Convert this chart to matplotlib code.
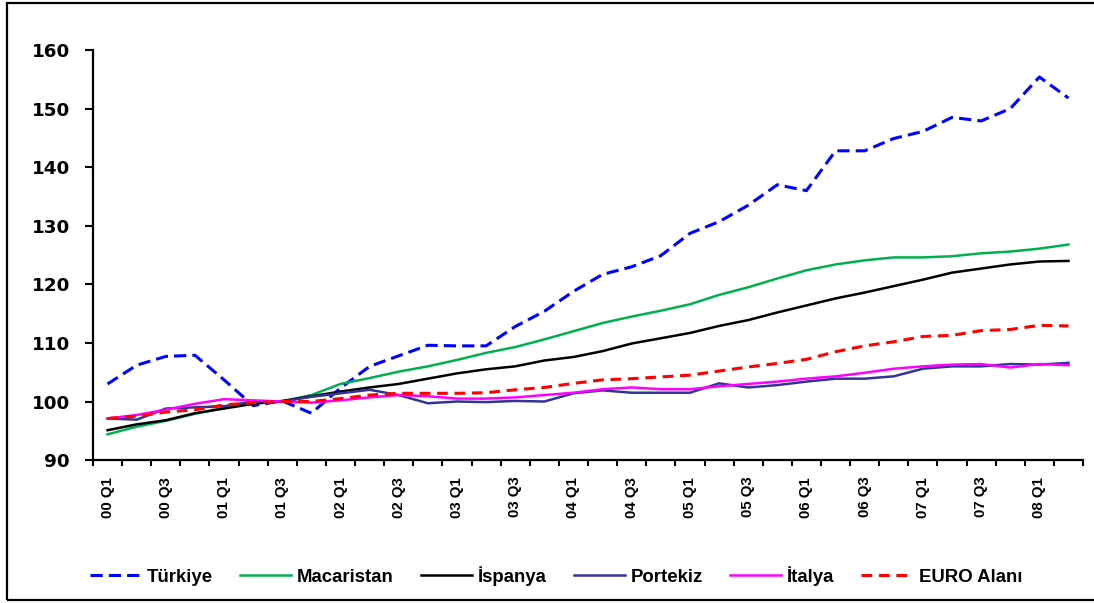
import matplotlib.pyplot as plt
from matplotlib.patches import Rectangle

quarters = ["00 Q1", "00 Q2", "00 Q3", "00 Q4", "01 Q1", "01 Q2", "01 Q3", "01 Q4",
            "02 Q1", "02 Q2", "02 Q3", "02 Q4", "03 Q1", "03 Q2", "03 Q3", "03 Q4",
            "04 Q1", "04 Q2", "04 Q3", "04 Q4", "05 Q1", "05 Q2", "05 Q3", "05 Q4",
            "06 Q1", "06 Q2", "06 Q3", "06 Q4", "07 Q1", "07 Q2", "07 Q3", "07 Q4",
            "08 Q1", "08 Q2"]
tick_labels = ["00 Q1", "00 Q3", "01 Q1", "01 Q3", "02 Q1", "02 Q3", "03 Q1", "03 Q3",
               "04 Q1", "04 Q3", "05 Q1", "05 Q3", "06 Q1", "06 Q3", "07 Q1", "07 Q3",
               "08 Q1"]

turkiye = [103.0, 106.2, 107.7, 107.9, 103.7, 99.3, 100.1, 98.0, 102.3, 106.0,
           107.8, 109.6, 109.5, 109.5, 112.8, 115.4, 118.8, 121.7, 123.0, 124.9,
           128.7, 130.7, 133.5, 137.0, 136.0, 142.8, 142.8, 144.9, 146.1, 148.5,
           147.9, 150.0, 155.4, 151.8]
macaristan = [94.4, 95.7, 96.7, 97.9, 98.9, 99.7, 100.0, 101.1, 103.0, 104.0,
              105.1, 106.0, 107.1, 108.3, 109.3, 110.6, 112.0, 113.4, 114.5, 115.5,
              116.6, 118.2, 119.5, 121.0, 122.4, 123.4, 124.1, 124.6, 124.6, 124.8,
              125.3, 125.6, 126.1, 126.8]
ispanya = [95.1, 96.1, 96.8, 98.0, 98.8, 99.6, 100.1, 100.9, 101.7, 102.4,
           103.0, 103.9, 104.8, 105.5, 106.0, 107.0, 107.6, 108.6, 109.9, 110.8,
           111.7, 112.9, 113.9, 115.2, 116.4, 117.6, 118.6, 119.7, 120.8, 122.0,
           122.7, 123.4, 123.9, 124.0]
portekiz = [97.1, 96.9, 98.8, 99.0, 99.2, 100.0, 100.0, 100.8, 101.4, 102.0,
            101.1, 99.7, 100.0, 99.9, 100.1, 100.0, 101.4, 101.9, 101.5, 101.5,
            101.5, 103.1, 102.4, 102.8, 103.4, 103.9, 103.9, 104.3, 105.6, 106.0,
            106.0, 106.4, 106.3, 106.6]
italya = [97.1, 97.7, 98.6, 99.6, 100.4, 100.2, 100.0, 99.8, 100.2, 100.7,
          101.1, 100.9, 100.5, 100.5, 100.7, 101.1, 101.5, 102.1, 102.4, 102.1,
          102.1, 102.6, 103.0, 103.4, 103.9, 104.3, 104.9, 105.6, 106.0, 106.3,
          106.4, 105.8, 106.4, 106.2]
euro = [97.1, 97.5, 98.2, 98.6, 99.4, 99.8, 100.0, 100.0, 100.5, 101.1,
        101.4, 101.4, 101.4, 101.5, 102.0, 102.4, 103.1, 103.7, 103.9, 104.2,
        104.5, 105.2, 105.9, 106.5, 107.2, 108.5, 109.5, 110.2, 111.1, 111.3,
        112.1, 112.3, 113.0, 112.9]

x = list(range(len(quarters)))

fig = plt.figure(figsize=(10.94, 6.03), dpi=100)
ax = fig.add_axes([0.085, 0.237, 0.905, 0.680])

ax.plot(x, turkiye, color="#0000FF", lw=2.2, dashes=(4, 2), label="Türkiye")
ax.plot(x, macaristan, color="#00B050", lw=1.8, label="Macaristan")
ax.plot(x, ispanya, color="black", lw=1.8, label="İspanya")
ax.plot(x, portekiz, color="#333399", lw=1.8, label="Portekiz")
ax.plot(x, italya, color="#FF00FF", lw=1.8, label="İtalya")
ax.plot(x, euro, color="#FF0000", lw=2.2, dashes=(3.5, 2.2), label="EURO Alanı")

ax.set_xlim(-0.5, len(quarters) - 0.5)
ax.set_ylim(90, 160)
ax.set_yticks(range(90, 161, 10))

for s in ["top", "right"]:
    ax.spines[s].set_visible(False)
for s in ["left", "bottom"]:
    ax.spines[s].set_linewidth(1.6)

ax.set_xticks([quarters.index(t) for t in tick_labels])
ax.set_xticklabels(tick_labels, rotation=90, fontsize=10.8, fontweight="bold",
                   family="Liberation Sans")
ax.set_xticks([i - 0.5 for i in range(len(quarters) + 1)], minor=True)
ax.tick_params(axis="x", which="major", length=0, pad=12)
ax.tick_params(axis="x", which="minor", length=4.5, width=1.5, direction="out")
ax.tick_params(axis="y", length=5.5, width=1.5, pad=11)
for lbl in ax.get_yticklabels():
    lbl.set_fontweight("bold")
    lbl.set_fontsize(13.2)
    lbl.set_family("DejaVu Sans")

fig.legend(loc="center", bbox_to_anchor=(0.508, 0.045), ncol=6, frameon=False,
           prop={"family": "Liberation Sans", "weight": "bold", "size": 13.4},
           handlelength=2.75, handletextpad=0.32, columnspacing=1.45)

fig.add_artist(Rectangle((0.006, 0.005), 1.1, 0.99, transform=fig.transFigure,
                         fill=False, edgecolor="black", lw=1.6, clip_on=False))

plt.savefig("out.png", dpi=100)
